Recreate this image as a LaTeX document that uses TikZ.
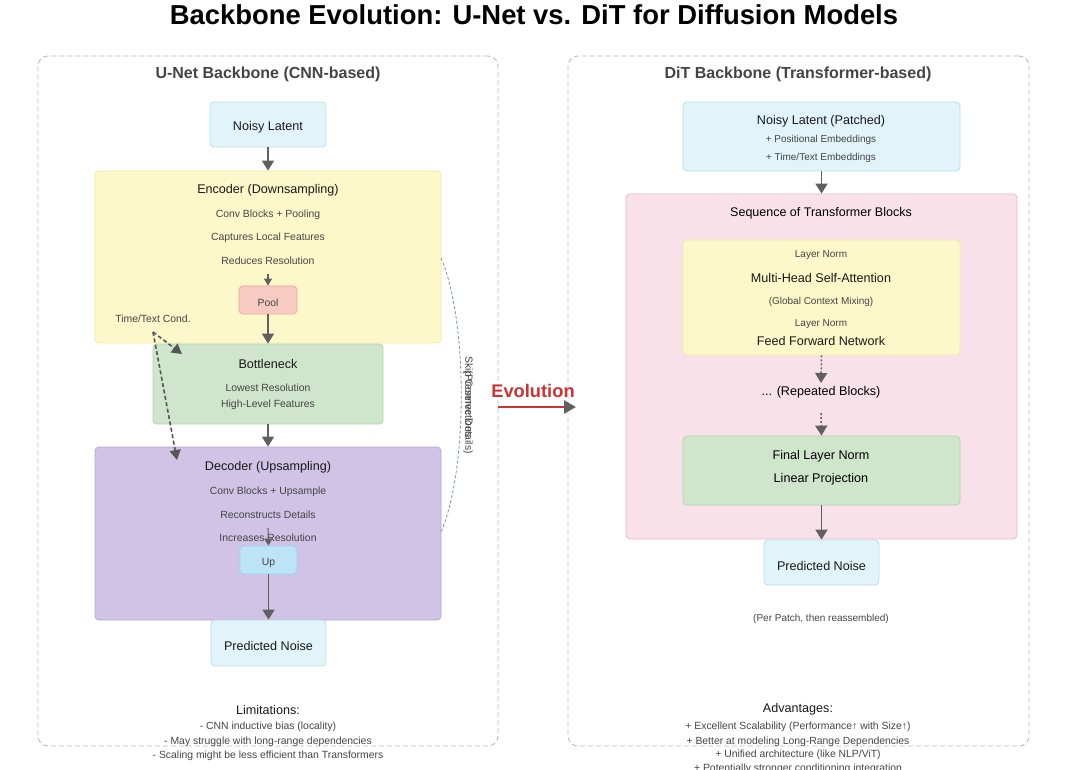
\documentclass[tikz,border=0pt]{standalone}
\usepackage{fontspec}
\setmainfont{Liberation Sans}
\usetikzlibrary{arrows.meta}
\definecolor{cyanF}{HTML}{E1F4F9}\definecolor{cyanD}{HTML}{B6E0EC}
\definecolor{yelF}{HTML}{FDF8C9}\definecolor{yelD}{HTML}{F4E9A6}
\definecolor{poolF}{HTML}{F7CBC2}\definecolor{poolD}{HTML}{EFA49A}
\definecolor{grnF}{HTML}{D0E6CC}\definecolor{grnD}{HTML}{B3D5AC}
\definecolor{purF}{HTML}{D0C3E6}\definecolor{purD}{HTML}{B5A5D8}
\definecolor{upF}{HTML}{BDE3F7}\definecolor{upD}{HTML}{99D0F0}
\definecolor{pnkF}{HTML}{F8E1E8}\definecolor{pnkD}{HTML}{EDB8C9}
\definecolor{arrC}{HTML}{606060}
\definecolor{panelC}{HTML}{BBBBBB}
\definecolor{evoC}{HTML}{CC3333}
\definecolor{subC}{HTML}{444444}
\definecolor{skipC}{HTML}{8090A0}
\begin{document}
\begin{tikzpicture}[x=1pt,y=1pt,
  box/.style={rounded corners=4pt, line width=0.8pt, inner sep=0pt},
  panel/.style={draw=panelC, line width=0.9pt, rounded corners=10pt, dash pattern=on 5pt off 3pt},
  txt/.style={yshift=-1.5pt},
  big/.style={txt, font=\fontsize{12.6}{14}\selectfont, text=black!90},
  small/.style={txt, font=\fontsize{10.4}{12}\selectfont, text=subC},
  tiny/.style={txt, font=\fontsize{10}{11}\selectfont, text=subC},
  ptitle/.style={txt, font=\fontsize{16}{18}\selectfont\bfseries, text=subC},
  arr/.style={draw=arrC, line width=1.8pt, -{Triangle[width=12pt,length=10pt]}},
  sarr/.style={draw=arrC, line width=1.1pt, -{Triangle[width=8pt,length=7pt]}},
  darr/.style={draw=arrC!90!black, line width=1.6pt, dash pattern=on 4pt off 2.5pt, -{Triangle[width=11pt,length=10pt]}},
  dotarr/.style={draw=arrC, line width=1.5pt, dash pattern=on 2pt off 2pt, -{Triangle[width=12pt,length=10pt]}}
]
\useasboundingbox (0,0) rectangle (1080,-770);
\clip (0,0) rectangle (1080,-770);
% title
\node[txt, font=\fontsize{27.4}{31}\selectfont\bfseries] (title) at (534,-13) {Backbone Evolution: U-Net vs. DiT for Diffusion Models};
% panels
\node[panel, minimum width=460pt, minimum height=690pt] (lp) at (268,-401) {};
\node[panel, minimum width=461pt, minimum height=690pt] (rp) at (798.5,-401) {};
\node[ptitle] (lpt) at (268,-73) {U-Net Backbone (CNN-based)};
\node[ptitle] (rpt) at (798,-73) {DiT Backbone (Transformer-based)};

% ---------- U-Net ----------
\node[box, fill=cyanF, draw=cyanD, minimum width=116pt, minimum height=45pt] (nl) at (268,-124.5) {};
\node[big] (nlt) at (268,-126) {Noisy Latent};

\node[box, fill=yelF, draw=yelD, minimum width=346pt, minimum height=172pt] (enc) at (268,-257) {};
\node[big] (enct) at (268,-189) {Encoder (Downsampling)};
\node[small] (enc1) at (268,-213) {Conv Blocks + Pooling};
\node[small] (enc2) at (268,-236) {Captures Local Features};
\node[small] (enc3) at (268,-259) {Reduces Resolution};
\node[box, fill=poolF, draw=poolD, minimum width=58pt, minimum height=28pt] (pool) at (268,-300) {};
\node[small] (poolt) at (268,-301) {Pool};
\coordinate (pin) at (268,-274);

\node[box, fill=grnF, draw=grnD, minimum width=230pt, minimum height=80pt] (bot) at (268,-384) {};
\node[big] (bott) at (268,-362) {Bottleneck};
\node[small] (bot1) at (268,-386) {Lowest Resolution};
\node[small] (bot2) at (268,-403) {High-Level Features};

\node[box, fill=purF, draw=purD, minimum width=346pt, minimum height=173pt] (dec) at (268,-533.5) {};
\node[big] (dect) at (268,-466) {Decoder (Upsampling)};
\node[small] (dec1) at (268,-490) {Conv Blocks + Upsample};
\node[small] (dec2) at (268,-513) {Reconstructs Details};
\node[small] (dec3) at (268,-536) {Increases Resolution};
\node[box, fill=upF, draw=upD, minimum width=57pt, minimum height=28pt] (up) at (268.5,-560) {};
\node[small] (upt) at (268.5,-561) {Up};
\coordinate (uin) at (268,-528);

\node[box, fill=cyanF, draw=cyanD, minimum width=115pt, minimum height=46pt] (pn) at (268.5,-643) {};
\node[big] (pnt) at (268.5,-644) {Predicted Noise};

\draw[arr] (nl.south) -- (enc.north);
\draw[sarr] (pin) -- (pool.north);
\draw[arr] (pool.south) -- (bot.north);
\draw[arr] (bot.south) -- (dec.north);
\draw[sarr] (uin) -- (up.north);
\draw[arr] (up.south) -- (pn.north);

% conditioning
\node[small] (tc) at (153,-317) {Time/Text Cond.};
\coordinate (tcs) at (153,-332);
\coordinate (tce1) at (182,-354);
\coordinate (tce2) at (177,-460);
\draw[darr] (tcs) -- (tce1);
\draw[darr] (tcs) -- (tce2);

% skip
\coordinate (sk1) at (441,-258);
\coordinate (sk2) at (441,-532);
\draw[draw=skipC, line width=0.8pt, dash pattern=on 3pt off 2pt] (sk1) .. controls (468,-320) and (468,-470) .. (sk2);
\node[small, yshift=0pt, rotate=-90, anchor=south west, inner sep=0pt] (skl1) at (463,-355) {Skip Connections};
\node[small, yshift=0pt, rotate=-90, anchor=south west, inner sep=0pt] (skl2) at (463,-369) {(Preserve Details)};

% evolution
\node[txt, font=\fontsize{18.3}{21}\selectfont\bfseries, text=evoC] (evo) at (533,-389) {Evolution};
\coordinate (ev1) at (498,-407);
\coordinate (ev2) at (576,-407);
\draw[draw=evoC, line width=2.6pt, -{Triangle[width=13pt,length=12pt,color=arrC]}] (ev1) -- (ev2);

% ---------- DiT ----------
\node[box, fill=cyanF, draw=cyanD, minimum width=277pt, minimum height=69pt] (pl) at (821.5,-136.5) {};
\node[big] (plt) at (821,-120) {Noisy Latent (Patched)};
\node[tiny] (pl1) at (821,-138) {+ Positional Embeddings};
\node[tiny] (pl2) at (821,-156) {+ Time/Text Embeddings};

\node[box, fill=pnkF, draw=pnkD, minimum width=391pt, minimum height=345pt] (seq) at (821.5,-366.5) {};
\node[txt, font=\fontsize{12.5}{14}\selectfont] (seqt) at (821,-212) {Sequence of Transformer Blocks};

\node[box, fill=yelF, draw=yelD, minimum width=277pt, minimum height=115pt] (tb) at (821.5,-297.5) {};
\node[tiny] (tb1) at (821,-254) {Layer Norm};
\node[big] (tb2) at (821,-276) {Multi-Head Self-Attention};
\node[tiny] (tb3) at (821,-300) {(Global Context Mixing)};
\node[tiny] (tb4) at (821,-323) {Layer Norm};
\node[big] (tb5) at (821,-339) {Feed Forward Network};

\node[txt, font=\fontsize{12.6}{14}\selectfont] (rep) at (821,-391) {... (Repeated Blocks)};

\node[box, fill=grnF, draw=grnD, minimum width=277pt, minimum height=69pt] (fin) at (821.5,-470.5) {};
\node[txt, font=\fontsize{12.6}{14}\selectfont] (fin1) at (821,-455) {Final Layer Norm};
\node[txt, font=\fontsize{12.6}{14}\selectfont] (fin2) at (821,-478) {Linear Projection};

\node[box, fill=cyanF, draw=cyanD, minimum width=115pt, minimum height=45pt] (pn2) at (821.5,-562.5) {};
\node[big] (pn2t) at (821.5,-564) {Predicted Noise};
\node[tiny] (pp) at (821,-617) {(Per Patch, then reassembled)};

\draw[arr] (pl.south) -- (seq.north);
\coordinate (r1) at (821,-383);
\coordinate (r2) at (821,-413);
\draw[dotarr] (tb.south) -- (r1);
\draw[dotarr] (r2) -- (fin.north);
\draw[arr] (fin.south) -- (pn2.north);

% bottom notes
\node[big] (lim) at (268,-708) {Limitations:};
\node[small] (lim1) at (268,-725) {- CNN inductive bias (locality)};
\node[small] (lim2) at (268,-740) {- May struggle with long-range dependencies};
\node[small] (lim3) at (268,-754) {- Scaling might be less efficient than Transformers};

\node[big] (adv) at (798,-708) {Advantages:};
\node[small] (adv1) at (798,-725) {+ Excellent Scalability (Performance↑ with Size↑)};
\node[small] (adv2) at (798,-740) {+ Better at modeling Long-Range Dependencies};
\node[small] (adv3) at (798,-753) {+ Unified architecture (like NLP/ViT)};
\node[small] (adv4) at (798,-767) {+ Potentially stronger conditioning integration};
\end{tikzpicture}
\end{document}
